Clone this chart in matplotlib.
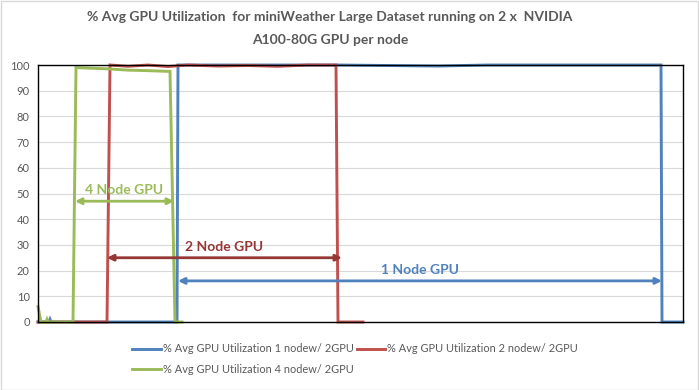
import matplotlib
matplotlib.use('Agg')
import matplotlib.pyplot as plt
from matplotlib.patches import Rectangle

plt.rcParams['font.family'] = ['Lato', 'DejaVu Sans']

# sample index (time) and % GPU utilisation, breakpoints
t_1node = [0, 11, 12, 13, 139, 140, 250, 300, 400, 450, 500, 623, 624, 645]
u_1node = [0, 0, 1, 0, 0, 100, 100, 100, 99.6, 100, 100, 100, 0, 0]

t_2node = [0, 69, 72, 90, 110, 130, 150, 180, 210, 240, 270, 298, 300, 325]
u_2node = [0, 0, 100, 99.5, 100, 99.4, 100, 99.6, 99.8, 99.5, 100, 100, 0, 0]

t_4node = [0, 3, 8, 9, 10, 35, 38, 50, 70, 90, 110, 132, 137, 144]
u_4node = [6, 0, 0, 1, 0, 0, 99, 98.8, 98.5, 98.0, 97.8, 97.5, 0, 0]

labels = ['% Avg GPU Utilization 1 nodew/ 2GPU',
          '% Avg GPU Utilization 2 nodew/ 2GPU',
          '% Avg GPU Utilization 4 nodew/ 2GPU']
colors = ['#4F81BD', '#C0504D', '#9BBB59']

# run spans annotated with double arrows: (start, end, level, text, colour)
spans = [
    (37, 136, 47, '4 Node GPU', '#9BBB59'),
    (69, 304, 25, '2 Node GPU', '#953735'),
    (140, 624, 16, '1 Node GPU', '#4F81BD'),
]

fig = plt.figure(figsize=(6.99, 3.9), dpi=100)
ax = fig.add_axes([38 / 699, 1 - 322 / 390, 645 / 699, 257 / 390])

lines = []
for t, u, lab, c in zip([t_1node, t_2node, t_4node], [u_1node, u_2node, u_4node], labels, colors):
    ln, = ax.plot(t, u, color=c, lw=2.1, label=lab, solid_joinstyle='miter', clip_on=False)
    lines.append(ln)

for x0, x1, y, txt, c in spans:
    ax.annotate('', xy=(x0, y), xytext=(x1, y),
                arrowprops=dict(arrowstyle='<|-|>', color=c, lw=2,
                                mutation_scale=9, shrinkA=0, shrinkB=0))
    ax.text((x0 + x1) / 2, y + 2, txt, color=c, ha='center', va='bottom',
            fontsize=10, fontweight='bold')

ax.set_xlim(0, 645)
ax.set_ylim(0, 100)
ax.set_yticks(range(0, 101, 10))
ax.set_xticks([])
ax.grid(axis='y', color='#D9D9D9', lw=0.8)
ax.set_axisbelow(True)
for s in ax.spines.values():
    s.set_color('black')
    s.set_linewidth(1)
ax.tick_params(axis='y', length=0, labelsize=8, labelcolor='#595959', pad=6)

fig.text(330 / 699, 1 - 17 / 390,
         '% Avg GPU Utilization  for miniWeather Large Dataset running on 2 x  NVIDIA',
         ha='center', va='center', fontsize=10, fontweight='bold', color='#595959')
fig.text(330 / 699, 1 - 40 / 390, 'A100-80G GPU per node',
         ha='center', va='center', fontsize=10, fontweight='bold', color='#595959')

# row-major order: blue, red on the first row, green on the second
order = [0, 2, 1]
leg = fig.legend([lines[i] for i in order], [labels[i] for i in order],
                 loc='upper left', bbox_to_anchor=(128 / 699, 1 - 339 / 390), ncol=2,
                 frameon=False, fontsize=7.9, handlelength=2.6, handletextpad=0.15,
                 columnspacing=0.3, labelspacing=0.85, borderaxespad=0)
for txt in leg.get_texts():
    txt.set_color('#595959')

fig.patches.append(Rectangle((0.001, 0.001), 0.997, 0.997, transform=fig.transFigure,
                             fill=False, edgecolor='#D9D9D9', lw=1))

fig.savefig('out.png', dpi=100)
